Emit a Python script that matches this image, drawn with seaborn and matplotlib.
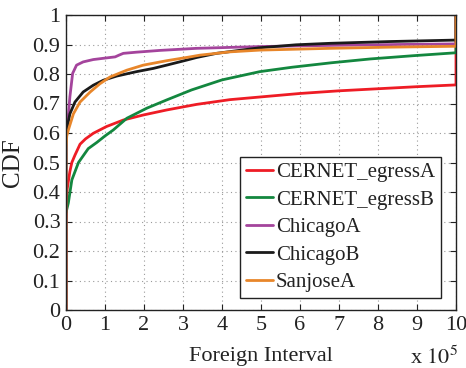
import numpy as np
import pandas as pd
import matplotlib
matplotlib.use("Agg")
import matplotlib.pyplot as plt
import seaborn as sns

# x values in units of 10^5
red_x = [0, 0, 0.03, 0.1, 0.15, 0.23, 0.36, 0.5, 0.7, 1.04, 1.47, 1.98, 2.58, 3.35, 4.2, 4.97, 6.0, 7.0, 8.0, 9.0, 10.0, 10.0]
red_y = [0, 0.30, 0.41, 0.47, 0.50, 0.525, 0.562, 0.58, 0.599, 0.622, 0.644, 0.661, 0.678, 0.697, 0.713, 0.722, 0.734, 0.743, 0.750, 0.757, 0.763, 1.0]

green_x = [0, 0.06, 0.15, 0.32, 0.57, 0.79, 1.0, 1.21, 1.56, 2.07, 2.58, 3.22, 4.0, 4.97, 5.8, 6.8, 7.8, 8.9, 10.0, 10.0]
green_y = [0.33, 0.363, 0.441, 0.500, 0.547, 0.568, 0.590, 0.610, 0.650, 0.684, 0.712, 0.746, 0.780, 0.808, 0.823, 0.838, 0.851, 0.862, 0.872, 1.0]

purple_x = [0, 0, 0.04, 0.1, 0.17, 0.27, 0.44, 0.7, 1.13, 1.26, 1.36, 1.47, 1.81, 2.41, 3.35, 4.97, 6.77, 8.5, 10.0, 10.0]
purple_y = [0, 0.60, 0.627, 0.723, 0.802, 0.830, 0.841, 0.849, 0.856, 0.858, 0.864, 0.870, 0.874, 0.880, 0.887, 0.893, 0.897, 0.900, 0.902, 1.0]

black_x = [0, 0, 0.03, 0.1, 0.23, 0.44, 0.7, 0.96, 1.3, 1.81, 2.24, 2.58, 3.09, 3.35, 3.86, 4.97, 5.9, 6.77, 8.3, 10.0, 10.0]
black_y = [0, 0.58, 0.62, 0.665, 0.705, 0.739, 0.762, 0.779, 0.793, 0.808, 0.819, 0.830, 0.847, 0.856, 0.870, 0.889, 0.899, 0.904, 0.910, 0.915, 1.0]

orange_x = [0, 0, 0.02, 0.06, 0.19, 0.36, 0.62, 0.87, 1.13, 1.56, 1.98, 2.58, 3.18, 3.44, 4.2, 4.97, 6.77, 8.3, 10.0, 10.0]
orange_y = [0, 0.55, 0.59, 0.61, 0.665, 0.705, 0.739, 0.767, 0.790, 0.813, 0.830, 0.845, 0.858, 0.864, 0.875, 0.881, 0.887, 0.891, 0.894, 1.0]

series_names = ["CERNET_egressA", "CERNET_egressB", "ChicagoA", "ChicagoB", "SanjoseA"]
series_x = [red_x, green_x, purple_x, black_x, orange_x]
series_y = [red_y, green_y, purple_y, black_y, orange_y]
colors = ["#ee1c25", "#13873f", "#a4449c", "#1a1a1a", "#e8862a"]

x_ticks = list(range(0, 11))
y_ticks = [round(0.1 * i, 1) for i in range(11)]
y_tick_labels = ["0", "0.1", "0.2", "0.3", "0.4", "0.5", "0.6", "0.7", "0.8", "0.9", "1"]

frames = []
for name, xs, ys in zip(series_names, series_x, series_y):
    frames.append(pd.DataFrame({"x": xs, "y": ys, "series": name}))
df = pd.concat(frames, ignore_index=True)

sns.set_style("ticks")
plt.rcParams["font.family"] = ["Liberation Serif", "DejaVu Serif"]
plt.rcParams["mathtext.fontset"] = "stix"

fig = plt.figure(figsize=(4.66, 3.68), dpi=100)
ax = fig.add_axes([66 / 466, 1 - 310 / 368, 390 / 466, 295 / 368])

sns.lineplot(data=df, x="x", y="y", hue="series", palette=dict(zip(series_names, colors)),
             hue_order=series_names, sort=False, estimator=None,
             linewidth=2.0, ax=ax)

ax.set_xlim(0, 10)
ax.set_ylim(0, 1)
ax.set_xticks(x_ticks)
ax.set_xticklabels([str(t) for t in x_ticks])
ax.set_yticks(y_ticks)
ax.set_yticklabels(y_tick_labels)
ax.grid(True, linestyle=(0, (1, 3)), color="#9a9a9a", linewidth=0.8)
ax.tick_params(direction="in", length=4, width=0.8, top=True, right=True,
               labelsize=16, pad=4, colors="#222222")
for s in ax.spines.values():
    s.set_color("#222222")
    s.set_linewidth(1.0)

ax.set_xlabel("Foreign Interval", fontsize=16, color="#222222", labelpad=9)
ax.set_ylabel("CDF", fontsize=18, color="#222222", labelpad=6)
fig.text(410 / 466, 1 - 364 / 368, r"x $10^5$", fontsize=16, color="#222222", va="baseline")

handles, labels = ax.get_legend_handles_labels()
leg = ax.legend(handles, labels, loc="lower right", bbox_to_anchor=(0.9615, 0.0407),
                fontsize=15, frameon=True, fancybox=False, framealpha=1,
                edgecolor="#222222", handlelength=1.3, handletextpad=0.15,
                labelspacing=0.38, borderpad=0.28, borderaxespad=0)
leg.get_frame().set_linewidth(1.0)
for t in leg.get_texts():
    t.set_color("#222222")

fig.savefig("out.png", dpi=100)
